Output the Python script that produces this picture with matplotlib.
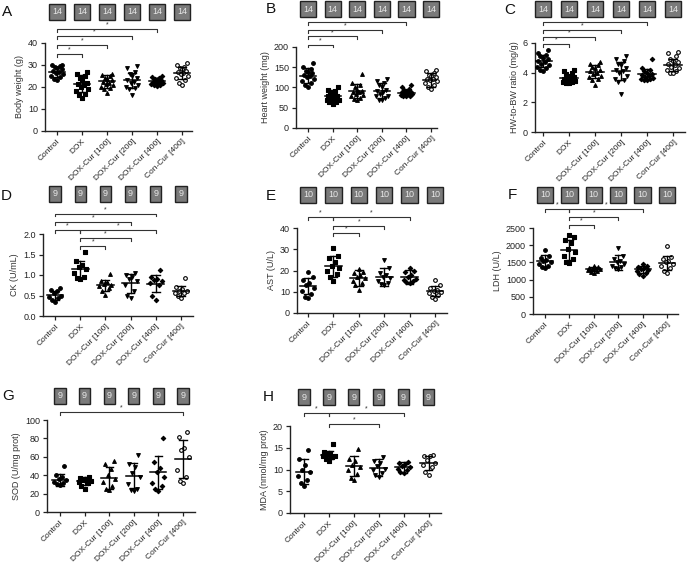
import matplotlib
matplotlib.use('Agg')
import matplotlib.pyplot as plt
import matplotlib.transforms as mtransforms
import numpy as np

plt.rcParams['font.family'] = ['Liberation Sans', 'DejaVu Sans']

groups = ['Control', 'DOX', 'DOX-Cur [100]', 'DOX-Cur [200]', 'DOX-Cur [400]', 'Con-Cur [400]']
markers = ['o', 's', '^', 'v', 'D', 'o']
filled = [True, True, True, True, True, False]

# A: body weight (g), n = 14
bw_vals = [[30, 29.8, 29.5, 29, 28.5, 28, 27.5, 27, 26.5, 26, 25, 24.5, 23.5, 23],
           [27, 26, 25, 24, 23, 22, 21.5, 21, 20, 19, 18, 17, 16.5, 15],
           [26, 25.5, 25, 24, 23.5, 23, 22.5, 22, 21.5, 21, 20, 19.5, 19, 17.5],
           [29.5, 28.5, 27, 26, 25, 24, 23, 22.5, 22, 21, 20, 19.5, 19, 16.5],
           [25, 24.5, 24, 23.5, 23, 23, 22.5, 22.5, 22, 22, 21.5, 21, 21, 20.5],
           [31, 30, 29, 28.5, 28, 27.5, 27, 26.5, 26, 25, 24, 23, 22, 21]]
bw_mean = [26.9, 21.5, 22.6, 23.0, 22.7, 26.3]
bw_sd = [2.4, 3.8, 3.0, 3.5, 1.5, 2.7]

# B: heart weight (mg), n = 14
hw_vals = [[160, 150, 145, 140, 138, 135, 132, 128, 125, 120, 115, 110, 105, 102],
           [100, 95, 92, 88, 85, 80, 78, 75, 72, 70, 68, 65, 63, 60],
           [133, 110, 105, 100, 95, 92, 90, 88, 85, 82, 78, 75, 72, 68],
           [120, 115, 110, 105, 100, 95, 92, 90, 85, 80, 78, 75, 70, 68],
           [107, 100, 97, 95, 92, 90, 88, 87, 85, 83, 82, 80, 79, 78],
           [143, 140, 135, 132, 128, 125, 122, 120, 118, 115, 110, 105, 100, 96]]
hw_mean = [129, 78, 91, 92, 87, 119]
hw_sd = [19, 16, 18, 19, 7, 17]

# C: HW-to-BW ratio (mg/g), n = 14
ratio_vals = [[5.5, 5.35, 5.2, 5.1, 5.0, 4.9, 4.8, 4.7, 4.6, 4.5, 4.4, 4.3, 4.2, 4.1],
              [4.2, 4.1, 4.0, 3.9, 3.8, 3.7, 3.6, 3.55, 3.5, 3.45, 3.4, 3.35, 3.3, 3.3],
              [4.7, 4.6, 4.5, 4.4, 4.3, 4.2, 4.1, 4.0, 3.9, 3.8, 3.7, 3.6, 3.5, 3.2],
              [5.1, 4.9, 4.8, 4.6, 4.5, 4.3, 4.2, 4.1, 4.0, 3.8, 3.6, 3.5, 3.4, 2.55],
              [4.9, 4.3, 4.2, 4.1, 4.0, 3.9, 3.85, 3.8, 3.7, 3.65, 3.6, 3.55, 3.5, 3.5],
              [5.4, 5.3, 5.1, 4.9, 4.8, 4.7, 4.6, 4.5, 4.4, 4.3, 4.2, 4.1, 4.0, 3.95]]
ratio_mean = [4.78, 3.62, 4.07, 4.12, 3.9, 4.5]
ratio_sd = [0.42, 0.25, 0.42, 0.62, 0.35, 0.42]

# D: CK (U/mL), n = 9
ck_vals = [[0.68, 0.63, 0.60, 0.55, 0.50, 0.47, 0.43, 0.38, 0.35],
           [1.55, 1.35, 1.25, 1.2, 1.15, 1.05, 0.95, 0.92, 0.9],
           [1.02, 0.85, 0.82, 0.78, 0.75, 0.72, 0.68, 0.62, 0.52],
           [1.05, 1.0, 0.95, 0.9, 0.85, 0.75, 0.6, 0.48, 0.45],
           [1.12, 0.95, 0.9, 0.88, 0.85, 0.8, 0.75, 0.5, 0.39],
           [0.93, 0.7, 0.65, 0.62, 0.6, 0.57, 0.55, 0.5, 0.45]]
ck_mean = [0.51, 1.14, 0.75, 0.80, 0.79, 0.61]
ck_sd = [0.11, 0.21, 0.14, 0.23, 0.2, 0.13]

# E: AST (U/L), n = 10
ast_vals = [[19.5, 17, 15.5, 14, 13, 12, 10.5, 9, 7.5, 7],
            [30.5, 27, 26, 24, 22, 21, 20, 18.5, 17, 15],
            [20.5, 19.5, 19, 18, 17, 16.5, 15, 14, 13, 11],
            [24.8, 21, 19, 18, 17, 16.5, 15, 14, 13.5, 13],
            [21, 20, 19.5, 18, 17, 16, 15.5, 15, 14.5, 14],
            [15.5, 13, 12, 11, 10.5, 10, 9.5, 8.5, 7.5, 6.5]]
ast_mean = [12.6, 22.0, 16.5, 17.0, 16.8, 10.3]
ast_sd = [3.8, 5.0, 3.6, 4.2, 3.3, 2.4]

# F: LDH (U/L), n = 10
ldh_vals = [[1850, 1700, 1620, 1580, 1550, 1500, 1450, 1400, 1380, 1350],
            [2300, 2250, 2150, 2050, 1900, 1800, 1700, 1600, 1520, 1480],
            [1400, 1380, 1350, 1330, 1320, 1300, 1280, 1250, 1220, 1200],
            [1920, 1700, 1600, 1550, 1500, 1450, 1400, 1380, 1350, 1300],
            [1450, 1400, 1380, 1350, 1320, 1280, 1250, 1200, 1150, 1100],
            [1980, 1650, 1600, 1550, 1500, 1450, 1400, 1350, 1250, 1200]]
ldh_mean = [1550, 1860, 1315, 1500, 1295, 1490]
ldh_sd = [170, 290, 60, 210, 110, 210]

# G: SOD (U/mg prot), n = 9
sod_vals = [[50, 40, 38, 36, 35, 33, 31, 30, 29],
            [38, 37, 36, 35, 34, 33, 31, 28, 25],
            [55, 52, 47, 40, 36, 33, 28, 25, 24],
            [62, 52, 49, 42, 38, 30, 25, 24, 23],
            [80, 54, 48, 44, 38, 32, 28, 25, 23],
            [87, 82, 70, 67, 60, 46, 38, 34, 31]]
sod_mean = [35.3, 33.5, 37.0, 39.3, 43.0, 57.5]
sod_sd = [6.5, 4.5, 11.5, 13.5, 18.0, 20.5]

# H: MDA (nmol/mg prot), n = 9
mda_vals = [[14.5, 12.3, 11, 10, 9.5, 8.5, 7.5, 6.8, 6.2],
            [15.8, 14, 13.8, 13.5, 13.2, 13, 12.8, 12.3, 12],
            [14.6, 12.5, 12, 11, 10.5, 10, 9, 8, 7.5],
            [12.8, 12, 11.5, 10.8, 10.2, 9.8, 9.2, 8.7, 8.3],
            [11.8, 11.5, 11.2, 10.8, 10.5, 10.2, 9.9, 9.5, 9.3],
            [13.3, 13.2, 13, 12.2, 11.5, 11, 10.5, 9.5, 8.7]]
mda_mean = [9.5, 13.3, 10.8, 10.4, 10.5, 11.4]
mda_sd = [2.9, 1.0, 2.4, 1.9, 1.3, 1.6]

# significance brackets: (group a, group b, height)
bw_sig = [(0, 1, 35.2), (0, 2, 39.2), (0, 3, 43.2), (0, 4, 46.5)]
hw_sig = [(0, 1, 206), (0, 2, 226), (0, 3, 242), (0, 4, 261)]
ratio_sig = [(0, 1, 5.93), (0, 2, 6.4), (0, 3, 6.9), (0, 4, 7.42)]
ck_sig = [(0, 1, 2.09), (0, 3, 2.29), (0, 4, 2.5), (1, 4, 2.09), (1, 3, 1.9), (1, 2, 1.71)]
ast_sig = [(0, 1, 45), (1, 4, 45), (1, 3, 41.1), (1, 2, 37.6)]
ldh_sig = [(0, 1, 3060), (1, 4, 3060), (1, 3, 2820), (1, 2, 2600)]
sod_sig = [(0, 5, 109)]
mda_sig = [(0, 1, 23.0), (1, 4, 23.0), (1, 3, 20.5)]

W, H = 690, 562
fig = plt.figure(figsize=(W / 100, H / 100), dpi=100)

# layout: letter, ylabel, axes px (l, t, r, b), xlim, yticks, n, letter px, box y px
panels = [
    ('A', 'Body weight (g)', bw_vals, bw_mean, bw_sd, bw_sig, (45, 43, 192, 131), (-0.48, 5.4), [0, 10, 20, 30, 40], 14, (2, 12), 12, '%g'),
    ('B', 'Heart weight (mg)', hw_vals, hw_mean, hw_sd, hw_sig, (296, 47, 437, 128), (-0.49, 5.24), [0, 50, 100, 150, 200], 14, (266, 9), 9, '%g'),
    ('C', 'HW-to-BW ratio (mg/g)', ratio_vals, ratio_mean, ratio_sd, ratio_sig, (535, 43, 685, 132), (-0.31, 5.46), [0, 2, 4, 6], 14, (504, 10), 9, '%g'),
    ('D', 'CK (U/mL)', ck_vals, ck_mean, ck_sd, ck_sig, (43, 234, 193, 316), (-0.48, 5.48), [0, 0.5, 1.0, 1.5, 2.0], 9, (1, 196), 194, '%.1f'),
    ('E', 'AST (U/L)', ast_vals, ast_mean, ast_sd, ast_sig, (297, 228, 447, 313), (-0.43, 5.47), [0, 10, 20, 30, 40], 10, (266, 196), 195, '%g'),
    ('F', 'LDH (U/L)', ldh_vals, ldh_mean, ldh_sd, ldh_sig, (533, 228, 678, 314), (-0.49, 5.45), [0, 500, 1000, 1500, 2000, 2500], 10, (508, 195), 195, '%g'),
    ('G', 'SOD (U/mg prot)', sod_vals, sod_mean, sod_sd, sod_sig, (47, 420, 195, 512), (-0.53, 5.49), [0, 20, 40, 60, 80, 100], 9, (2, 396), 396, '%g'),
    ('H', 'MDA (nmol/mg prot)', mda_vals, mda_mean, mda_sd, mda_sig, (290, 426, 441, 513), (-0.56, 5.5), [0, 5, 10, 15, 20], 9, (263, 397), 397, '%g'),
]

offsets_cycle = [0, -0.13, 0.13, -0.24, 0.24, -0.06, 0.06, -0.18, 0.18, 0.0, -0.1, 0.1, -0.2, 0.2]


def spread(vals):
    order = np.argsort(vals)
    off = np.zeros(len(vals))
    for k, idx in enumerate(order):
        off[idx] = offsets_cycle[k % len(offsets_cycle)]
    return off


for letter, ylab, vals, means, sds, sigs, (l, t, r, b), xlim, yticks, n, (lx, ly), box_y, fmt in panels:
    ax = fig.add_axes([l / W, 1 - b / H, (r - l) / W, (b - t) / H])
    ymax = yticks[-1]
    for i, v in enumerate(vals):
        v = np.array(v, dtype=float)
        x = i + spread(v)
        fc = 'black' if filled[i] else 'white'
        ms = 7 if markers[i] != 'D' else 5
        ax.scatter(x, v, s=ms, marker=markers[i], facecolor=fc, edgecolor='black',
                   linewidths=0.8, zorder=3, clip_on=False)
        m, s = means[i], sds[i]
        ax.plot([i - 0.33, i + 0.33], [m, m], color='black', lw=1.1, zorder=4)
        ax.plot([i, i], [m - s, m + s], color='black', lw=1.0, zorder=4)
        ax.plot([i - 0.15, i + 0.15], [m + s, m + s], color='black', lw=1.0, zorder=4)
        ax.plot([i - 0.15, i + 0.15], [m - s, m - s], color='black', lw=1.0, zorder=4)

    drop = ymax * 0.035
    for a, c, h in sigs:
        ax.plot([a, a, c, c], [h - drop, h, h, h - drop], color='#333333', lw=0.8, clip_on=False)
        ax.text((a + c) / 2, h + drop * 0.2, '*', ha='center', va='bottom', fontsize=5, color='#333333')

    ax.set_xlim(*xlim)
    ax.set_ylim(0, ymax)
    ax.set_yticks(yticks)
    ax.set_yticklabels([fmt % y for y in yticks], fontsize=6.5, color='#333333')
    ax.set_xticks(range(len(groups)))
    ax.set_xticklabels(groups, rotation=45, ha='right', rotation_mode='anchor', fontsize=6, color='#333333')
    ax.set_ylabel(ylab, fontsize=6.5, color='#333333', labelpad=3)
    for sp in ['top', 'right']:
        ax.spines[sp].set_visible(False)
    for sp in ['left', 'bottom']:
        ax.spines[sp].set_linewidth(1.0)
        ax.spines[sp].set_color('#222222')
    ax.tick_params(length=3, width=0.9, pad=2, colors='#222222')

    trans = mtransforms.blended_transform_factory(ax.transData, fig.transFigure)
    for i in range(len(groups)):
        ax.text(i, 1 - box_y / H, str(n), transform=trans, ha='center', va='center',
                fontsize=6.5, color='#e8e8e8',
                bbox=dict(boxstyle='square,pad=0.35', facecolor='#7a7a7a', edgecolor='#222222', linewidth=1.0))
    fig.text(lx / W, 1 - ly / H, letter, fontsize=11, ha='left', va='center', color='#111111')

fig.savefig('out.png', dpi=100)
